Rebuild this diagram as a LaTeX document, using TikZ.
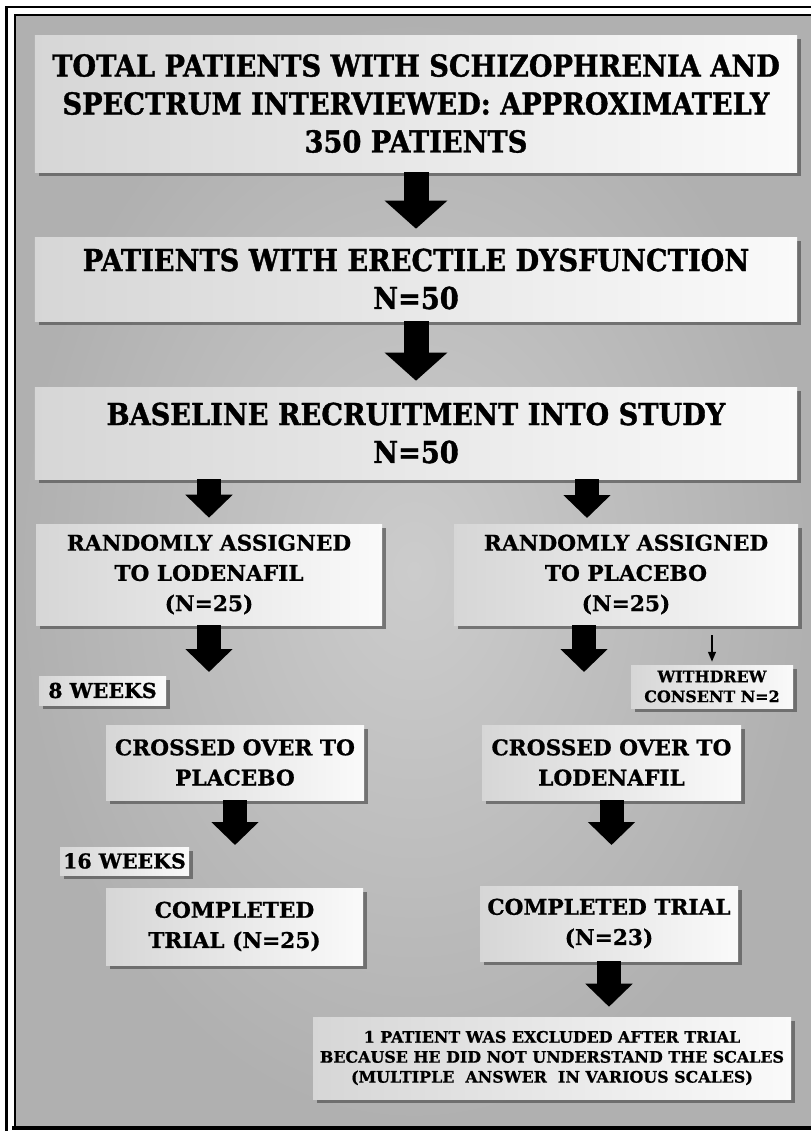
\documentclass[tikz,border=0pt]{standalone}
\usepackage{fontspec}
\newfontfamily\grande{DejaVu Serif}[FakeStretch=0.9, BoldFeatures={FakeBold=1.2}]
\newfontfamily\piccolo{DejaVu Serif}[BoldFeatures={FakeBold=0.8}]
\usetikzlibrary{arrows.meta,shadows}

\begin{document}
\begin{tikzpicture}
\tikzstyle{riquadro} = [left color=black!16, middle color=white, right color=black!2, drop shadow={shadow xshift=2.5pt,shadow yshift=-3pt,opacity=0.75,fill=black!65}, align=center, inner sep=0pt]
\tikzstyle{titolo} = [riquadro, minimum width=19.05cm, font=\grande\bfseries\fontsize{21.5}{27}\selectfont]
\tikzstyle{scelta} = [riquadro, font=\piccolo\bfseries\fontsize{15.4}{21.5}\selectfont]
\tikzstyle{tempo} = [riquadro, font=\piccolo\bfseries\fontsize{14.6}{15}\selectfont]
\tikzstyle{nota} = [riquadro, font=\piccolo\bfseries\fontsize{11.3}{14.2}\selectfont]
\tikzstyle{freccione} = [line width=0.625cm, -{Triangle[width=1.525cm,length=0.7cm]}]
\tikzstyle{frecciamedia} = [line width=0.6cm, -{Triangle[width=1.15cm,length=0.575cm]}]
\tikzstyle{freccina} = [line width=1.2pt, -{Triangle[width=5.5pt,length=7pt]}]
\useasboundingbox (0,0) rectangle (20.25,-28.275);
\fill[white] (0,0) rectangle (20.25,-28.275);
\shade[inner color=black!20, outer color=black!31] (0.4,-0.4) rectangle (20.3,-28.15);
\draw[line width=2pt] (20.5,-0.175) -| (0.1625,-28.5);
\draw[line width=1.4pt] (20.5,-0.375) -| (0.375,-28.2);
\draw[line width=3pt] (0.3,-28.2) -- (20.5,-28.2);
\node[titolo, minimum height=3.425cm] (b1) at (10.4,-2.5875) {TOTAL PATIENTS WITH SCHIZOPHRENIA AND\\SPECTRUM INTERVIEWED: APPROXIMATELY\\350 PATIENTS};
\node[titolo, minimum height=2.1cm] (b2) at (10.4,-6.975) {PATIENTS WITH ERECTILE DYSFUNCTION\\N=50};
\node[titolo, minimum height=2.3cm] (b3) at (10.4,-10.825) {BASELINE RECRUITMENT INTO STUDY\\N=50};
\node[scelta, minimum width=8.65cm, minimum height=2.525cm] (b4) at (5.225,-14.3625) {RANDOMLY ASSIGNED\\TO LODENAFIL\\(N=25)};
\node[scelta, minimum width=8.6cm, minimum height=2.525cm] (b5) at (15.65,-14.3625) {RANDOMLY ASSIGNED\\TO PLACEBO\\(N=25)};
\node[tempo, minimum width=3.175cm, minimum height=0.725cm] (b6) at (2.5625,-17.2625) {8 WEEKS};
\node[nota, minimum width=4.05cm, minimum height=1.075cm] (b7) at (17.8,-17.1625) {WITHDREW\\CONSENT N=2};
\node[scelta, minimum width=6.45cm, minimum height=1.875cm] (b8) at (5.875,-19.0625) {CROSSED OVER TO\\PLACEBO};
\node[scelta, minimum width=6.475cm, minimum height=1.875cm] (b9) at (15.2875,-19.0625) {CROSSED OVER TO\\LODENAFIL};
\node[tempo, minimum width=3.225cm, minimum height=0.7cm] (b10) at (3.1125,-21.525) {16 WEEKS};
\node[scelta, minimum width=6.425cm, minimum height=1.925cm] (b11) at (5.8625,-23.1625) {COMPLETED\\TRIAL (N=25)};
\node[scelta, minimum width=6.45cm, minimum height=1.875cm] (b12) at (15.225,-23.0875) {COMPLETED TRIAL\\(N=23)};
\node[nota, minimum width=11.95cm, minimum height=2.05cm] (b13) at (13.8,-26.45) {1 PATIENT WAS EXCLUDED AFTER TRIAL\\BECAUSE HE DID NOT UNDERSTAND THE SCALES\\(MULTIPLE~ ANSWER~ IN VARIOUS SCALES)};
\coordinate (p1) at (14.675,-12.95);
\coordinate (p2) at (5.225,-16.8);
\coordinate (p3) at (14.6,-16.8);
\coordinate (p4) at (17.8,-15.875);
\coordinate (p5) at (5.875,-21.125);
\coordinate (p6) at (15.2875,-21.125);
\draw[freccione, shorten >=0.2cm] (b1) -- (b2);
\draw[freccione, shorten >=0.15cm] (b2) -- (b3);
\draw[frecciamedia, shorten >=0.15cm] (b3.south -| b4) -- (b4);
\draw[frecciamedia] (b3.south -| p1) -- (p1);
\draw[frecciamedia] (b4) -- (p2);
\draw[frecciamedia] (b5.south -| p3) -- (p3);
\draw[freccina, shorten >=0.075cm] (p4) -- (b7);
\draw[frecciamedia] (b8) -- (p5);
\draw[frecciamedia] (b9) -- (p6);
\draw[frecciamedia, shorten >=0.25cm] (b12) -- (b12 |- b13.north);
\end{tikzpicture}
\end{document}
